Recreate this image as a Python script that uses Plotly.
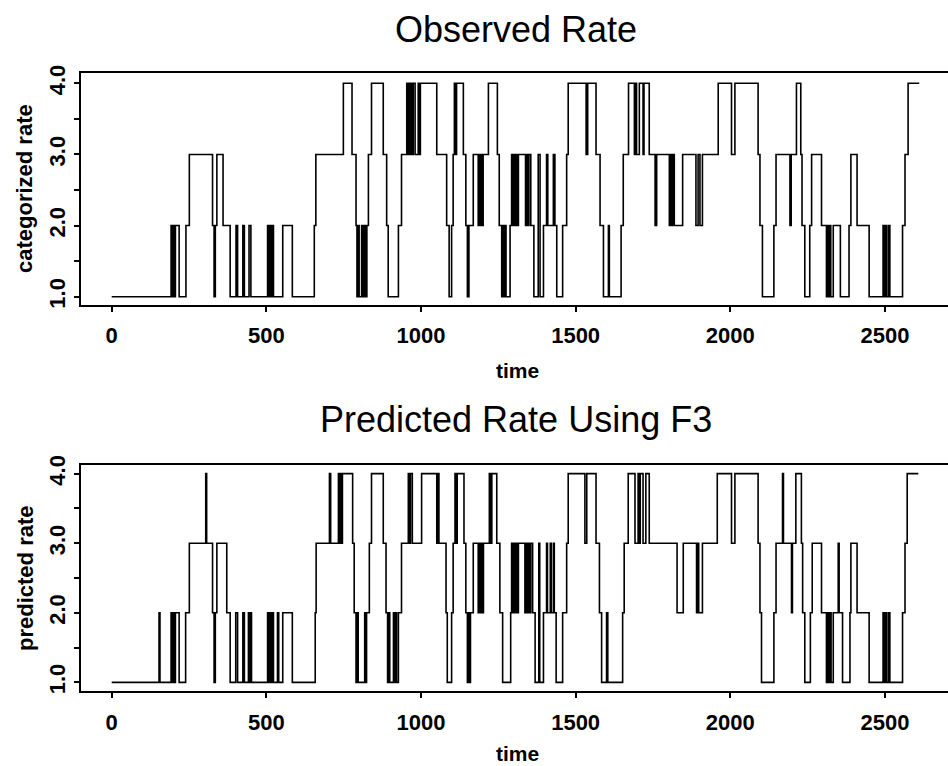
import plotly.graph_objects as go

# ---------------------------------------------------------------------------
# DATA (change points: time at which the categorized rate switches level)
# ---------------------------------------------------------------------------
obs_time = [0,
            192, 197, 200, 203, 206, 218, 240, 251,
            326, 331, 335, 340, 360, 383,
            402, 407, 424, 429, 444, 450,
            504, 508, 511, 515, 518, 523, 553, 584,
            655, 660, 749, 777,
            790, 793, 797, 800, 808, 813, 818, 821, 825, 830, 840,
            878, 889, 894, 927, 937,
            954, 958, 961, 965, 968, 972, 975, 981, 991, 995, 998,
            1051, 1083, 1091, 1099, 1104, 1108, 1112, 1115, 1137,
            1145, 1150, 1155, 1169, 1185, 1188, 1192, 1195, 1198, 1201,
            1218, 1247, 1253, 1261, 1265, 1268, 1272, 1275,
            1288, 1293, 1297, 1300, 1304, 1307, 1312, 1315,
            1338, 1341, 1346, 1349, 1355, 1365,
            1379, 1385, 1396, 1406, 1410, 1428, 1433, 1439,
            1458, 1471, 1476, 1534, 1539, 1566, 1579, 1590, 1606, 1609,
            1647, 1654, 1671, 1690, 1693, 1697, 1706, 1718, 1721, 1738,
            1757, 1762, 1803, 1807, 1811, 1815, 1819, 1846,
            1889, 1896, 1902, 1910,
            1961, 2004, 2015, 2090, 2096, 2104,
            2141, 2148, 2193, 2197, 2214, 2228, 2232, 2241,
            2257, 2263, 2295, 2311, 2315, 2318, 2322, 2325, 2333, 2356,
            2384, 2390, 2410, 2449,
            2494, 2497, 2500, 2505, 2511, 2516,
            2557, 2565, 2575, 2611]
obs_rate = [1,
            2, 1, 2, 1, 2, 1, 2, 3,
            2, 1, 2, 3, 2, 1,
            2, 1, 2, 1, 2, 1,
            2, 1, 2, 1, 2, 1, 2, 1,
            2, 3, 4, 3,
            2, 1, 2, 1, 2, 1, 2, 1, 2, 3, 4,
            3, 2, 1, 2, 3,
            4, 3, 4, 3, 4, 3, 4, 3, 4, 3, 4,
            3, 2, 1, 2, 3, 4, 3, 4, 3,
            2, 1, 2, 3, 2, 3, 2, 3, 2, 3,
            4, 3, 2, 1, 2, 1, 2, 1,
            2, 3, 2, 3, 2, 3, 2, 3,
            2, 3, 2, 3, 2, 1,
            3, 1, 2, 3, 2, 3, 2, 1,
            2, 3, 4, 3, 4, 3, 2, 1, 2, 1,
            2, 3, 4, 3, 4, 3, 4, 3, 4, 3,
            2, 3, 2, 3, 2, 3, 2, 3,
            2, 3, 2, 3,
            4, 3, 4, 3, 2, 1,
            2, 3, 2, 3, 4, 3, 2, 1,
            2, 3, 2, 1, 2, 1, 2, 1, 2, 1,
            2, 3, 2, 1,
            2, 1, 2, 1, 2, 1,
            2, 3, 4, 4]

pred_time = [0,
             153, 156,
             192, 196, 199, 203, 206, 218, 239, 251,
             304, 307,
             326, 331, 335, 340, 372, 383,
             401, 407, 424, 429, 442, 446, 449, 452,
             504, 508, 511, 515, 518, 523,
             536, 540, 553, 584,
             658, 661, 704, 708,
             733, 737, 740, 743, 746,
             779, 784, 790, 794, 797, 818, 821, 824, 833, 840,
             878, 887, 892, 896, 899, 911, 914, 918, 921, 927, 937,
             959, 963, 966, 972,
             1002, 1051, 1054, 1058,
             1081, 1085, 1099, 1104, 1110, 1114, 1117, 1139,
             1145, 1150, 1153, 1156, 1160, 1169,
             1185, 1188, 1192, 1196, 1199, 1202,
             1221, 1225, 1229, 1245, 1255, 1264,
             1290, 1293, 1297, 1300, 1304, 1308, 1312, 1315,
             1336, 1339, 1343, 1347, 1352, 1355, 1361, 1369,
             1381, 1384, 1396, 1406, 1409, 1418, 1421, 1428, 1431, 1437,
             1458, 1471, 1476, 1530, 1536, 1566, 1577, 1584, 1600, 1604,
             1652, 1657, 1670, 1692, 1702, 1706, 1709, 1718, 1727, 1738,
             1828, 1848, 1891, 1895, 1898, 1910,
             1958, 2004, 2015, 2090, 2096, 2101,
             2141, 2148, 2169, 2172, 2198, 2201, 2212, 2230, 2234, 2241,
             2259, 2265, 2295, 2311, 2315, 2318, 2322, 2326, 2333, 2349, 2352, 2363,
             2387, 2390, 2410, 2449,
             2494, 2498, 2502, 2505, 2511, 2516,
             2557, 2565, 2572, 2608]
pred_rate = [1,
             2, 1,
             2, 1, 2, 1, 2, 1, 2, 3,
             4, 3,
             2, 1, 2, 3, 2, 1,
             2, 1, 2, 1, 2, 1, 2, 1,
             2, 1, 2, 1, 2, 1,
             2, 1, 2, 1,
             2, 3, 4, 3,
             4, 3, 4, 3, 4,
             3, 2, 1, 2, 1, 2, 1, 2, 3, 4,
             3, 2, 1, 2, 1, 2, 1, 2, 1, 2, 3,
             4, 3, 4, 3,
             4, 3, 4, 3,
             2, 1, 2, 3, 4, 3, 4, 3,
             2, 1, 2, 1, 2, 3,
             2, 3, 2, 3, 2, 3,
             4, 3, 4, 3, 2, 1,
             2, 3, 2, 3, 2, 3, 2, 3,
             2, 3, 2, 3, 2, 3, 2, 1,
             3, 1, 2, 3, 2, 3, 2, 3, 2, 1,
             2, 3, 4, 3, 4, 3, 2, 1, 2, 1,
             2, 3, 4, 3, 4, 3, 4, 3, 4, 3,
             2, 3, 2, 3, 2, 3,
             4, 3, 4, 3, 2, 1,
             2, 3, 4, 3, 2, 3, 4, 3, 2, 1,
             2, 3, 2, 1, 2, 1, 2, 1, 2, 3, 2, 1,
             2, 3, 2, 1,
             2, 1, 2, 1, 2, 1,
             2, 3, 4, 4]

x_ticks = [0, 500, 1000, 1500, 2000, 2500]
y_ticks = [1.0, 1.5, 2.0, 2.5, 3.0, 3.5, 4.0]
y_ticktext = ["1.0", "", "2.0", "", "3.0", "", "4.0"]

panel_titles = ["Observed Rate", "Predicted Rate Using F3"]
y_titles = ["categorized rate", "predicted rate"]
x_title = "time"

# ---------------------------------------------------------------------------
# LAYOUT HELPERS (pixel rows -> paper coords, margins are zero top/bottom)
# ---------------------------------------------------------------------------
W, H = 948, 766
LEFT = 81
FONT = "Liberation Sans, Arial, Helvetica, sans-serif"


def py(px):
    return 1 - px / H


def px_x(px):
    return (px - LEFT) / (W - LEFT)


fig = go.Figure()
fig.add_trace(go.Scatter(x=obs_time, y=obs_rate, mode="lines", xaxis="x", yaxis="y",
                         line=dict(shape="hv", color="black", width=1.6), showlegend=False))
fig.add_trace(go.Scatter(x=pred_time, y=pred_rate, mode="lines", xaxis="x2", yaxis="y2",
                         line=dict(shape="hv", color="black", width=1.6), showlegend=False))

xax = dict(range=[-99.3, 2704], tickvals=x_ticks, ticks="outside", ticklen=5, tickwidth=1.5,
           tickcolor="black", showline=True, linewidth=2, linecolor="black", mirror=True,
           showgrid=False, zeroline=False, automargin=False, ticklabelstandoff=5,
           tickfont=dict(family=FONT, size=22, color="black", weight="bold"))
yax = dict(tickvals=y_ticks, ticktext=y_ticktext, tickangle=-90, ticks="outside", ticklen=5,
           tickwidth=1.5, tickcolor="black", showline=True, linewidth=2, linecolor="black",
           showgrid=False, zeroline=False, automargin=False,
           tickfont=dict(family=FONT, size=22, color="black", weight="bold"))

fig.update_layout(
    width=W, height=H,
    margin=dict(l=LEFT, r=0, t=0, b=0),
    paper_bgcolor="white", plot_bgcolor="white",
    xaxis=dict(xax, anchor="y"),
    yaxis=dict(yax, anchor="x", domain=[py(305), py(73)], range=[0.883, 4.145]),
    xaxis2=dict(xax, anchor="y2"),
    yaxis2=dict(yax, anchor="x2", domain=[py(691.3), py(464.7)], range=[0.871, 4.129]),
)

annotations = []
# panel titles
for text, y in zip(panel_titles, [29, 419]):
    annotations.append(dict(text=text, x=px_x(515.5), y=py(y), xref="paper", yref="paper",
                            xanchor="center", yanchor="middle", showarrow=False,
                            font=dict(family=FONT, size=36, color="black")))
# x axis titles
for y in [370, 753]:
    annotations.append(dict(text=x_title, x=px_x(517), y=py(y), xref="paper", yref="paper",
                            xanchor="center", yanchor="middle", showarrow=False,
                            font=dict(family=FONT, size=21, color="black", weight="bold")))
# y axis titles
for text, y in zip(y_titles, [189, 578]):
    annotations.append(dict(text=text, x=px_x(25), y=py(y), xref="paper", yref="paper",
                            xanchor="center", yanchor="middle", showarrow=False, textangle=-90,
                            font=dict(family=FONT, size=22, color="black", weight="bold")))
fig.update_layout(annotations=annotations)

# page body margin would shift the figure by 8px
fig.write_html("out.html", config=dict(displayModeBar=False),
               post_script="document.body.style.margin='0';")
